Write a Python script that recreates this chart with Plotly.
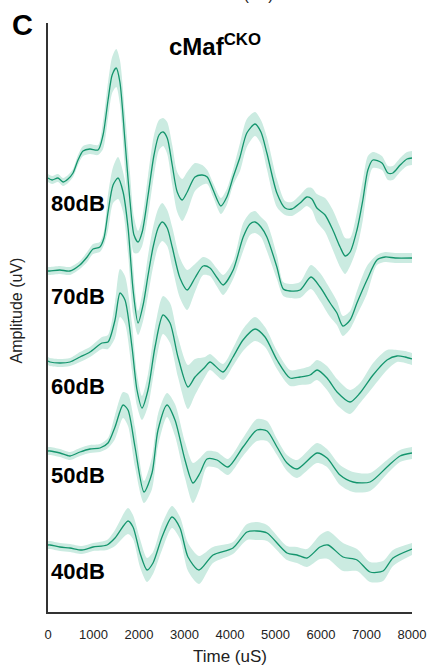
import plotly.graph_objects as go

# ---------------- data (time in µs, amplitude in arbitrary units, up = positive) -------------
LEVELS = ["80dB", "70dB", "60dB", "50dB", "40dB"]
OFFSETS = [434, 341, 251, 162, 66]

T80 = [0, 90, 220, 330, 440, 550, 660, 770, 920, 1100, 1210, 1320, 1410, 1500, 1580, 1690, 1800, 1890, 1980, 2070,
       2200, 2330, 2440, 2530, 2620, 2730, 2840, 2950, 3060, 3230, 3390, 3500, 3630, 3800, 3930, 4070, 4220, 4370, 4550, 4680,
       4810, 5030, 5210, 5360, 5540, 5690, 5800, 5910, 6090, 6260, 6420, 6530, 6640, 6790, 6920, 7030, 7140, 7340, 7470, 7580,
       7740, 7890, 8000]
V80 = [0, -2, 0, -4, -1, 5, 18, 27, 29, 28, 43, 78, 103, 110, 96, 38, -22, -57, -64, -54,
       -17, 23, 43, 46, 40, 13, -14, -22, -14, 1, 3, 1, -12, -28, -19, 1, 21, 45, 54, 46,
       25, -15, -30, -31, -25, -19, -21, -30, -37, -52, -69, -78, -74, -52, -22, 8, 18, 15, 5, 5,
       13, 19, 20]
S80 = [4, 4, 4, 4, 4, 4, 5, 5, 5, 5, 14, 18, 18, 19, 22, 28, 28, 18, 11, 14,
       20, 20, 15, 14, 16, 20, 20, 21, 20, 14, 10, 7, 7, 8, 8, 8, 14, 14, 12, 12,
       16, 14, 7, 7, 8, 9, 11, 14, 17, 20, 20, 18, 14, 18, 20, 14, 8, 7, 7, 7,
       7, 7, 7]

T70 = [0, 40, 260, 480, 700, 860, 990, 1140, 1230, 1320, 1430, 1540, 1650, 1760, 1870, 1980, 2090, 2200, 2310, 2420,
       2510, 2620, 2730, 2900, 3060, 3230, 3410, 3560, 3720, 3850, 4070, 4290, 4440, 4550, 4680, 4810, 5030, 5170, 5320, 5540,
       5780, 5980, 6200, 6350, 6480, 6640, 6790, 7010, 7230, 7410, 7630, 8000]
V70 = [0, 0, 1, 0, 6, 14, 22, 24, 33, 59, 86, 93, 79, 43, -19, -52, -34, -4, 24, 43,
       49, 43, 24, -7, -19, -7, 5, 3, -7, -14, 1, 34, 47, 49, 44, 34, 4, -18, -20, -19,
       -6, -16, -32, -42, -55, -49, -32, -9, 11, 14, 13, 13]
S70 = [4, 4, 4, 4, 4, 5, 5, 5, 7, 18, 18, 21, 20, 26, 24, 12, 16, 20, 20, 19,
       19, 18, 20, 20, 20, 14, 9, 8, 9, 10, 9, 14, 11, 11, 10, 14, 12, 7, 7, 8,
       12, 14, 14, 12, 10, 9, 12, 14, 5, 5, 5, 5]

T60 = [0, 44, 264, 484, 703, 923, 1187, 1319, 1473, 1583, 1692, 1846, 1956, 2066, 2198, 2352, 2528, 2682, 2857, 3077,
       3231, 3451, 3561, 3847, 4066, 4286, 4550, 4770, 5033, 5319, 5539, 5759, 5913, 6132, 6352, 6638, 6858, 7144, 7451, 7671,
       7847, 8000]
V60 = [0, -1, -2, -1, 4, 9, 18, 19, 41, 68, 61, 14, -29, -47, -29, 14, 46, 38, 4, -26,
       -16, -6, -1, -11, 4, 21, 32, 24, 1, -17, -16, -14, -9, -17, -31, -41, -32, -14, 1, 5,
       4, 2]
S60 = [4, 4, 4, 4, 5, 5, 6, 7, 18, 24, 24, 24, 16, 12, 16, 20, 19, 20, 20, 22,
       18, 10, 8, 8, 9, 11, 12, 10, 9, 8, 8, 9, 10, 12, 13, 12, 10, 12, 10, 6,
       6, 6]

T50 = [0, 44, 264, 484, 703, 923, 1143, 1319, 1473, 1649, 1758, 1912, 2110, 2286, 2418, 2616, 2791, 3011, 3187, 3341,
       3495, 3715, 3956, 4286, 4594, 4814, 5033, 5253, 5473, 5913, 6132, 6418, 6704, 7078, 7451, 7737, 8000]
V50 = [-1, -1, -3, -6, -2, 1, 2, 7, 23, 45, 40, 3, -42, -23, 20, 45, 30, -10, -33, -23,
       -9, -10, -17, 3, 20, 19, 3, -13, -19, -3, -8, -25, -32, -32, -17, -6, -3]
S50 = [4, 4, 4, 4, 4, 4, 4, 5, 12, 13, 16, 20, 11, 16, 16, 12, 16, 18, 20, 15,
       8, 8, 8, 9, 11, 10, 8, 8, 9, 10, 9, 10, 10, 9, 7, 6, 6]

T40 = [0, 44, 264, 484, 747, 989, 1297, 1473, 1758, 1868, 2022, 2176, 2308, 2506, 2726, 2901, 3077, 3319, 3627, 4066,
       4374, 4594, 4814, 5253, 5473, 5693, 5979, 6154, 6484, 6792, 7078, 7363, 7583, 8000]
V40 = [1, 1, -1, -2, -4, -1, 1, 8, 25, 19, -7, -24, -17, 9, 29, 18, -11, -24, -9, -2,
       14, 15, 13, -7, -9, -12, -1, 1, -11, -14, -26, -25, -12, -3]
S40 = [4, 4, 4, 4, 4, 4, 5, 8, 13, 12, 14, 12, 11, 13, 11, 11, 14, 14, 8, 6,
       8, 9, 8, 7, 8, 9, 12, 14, 14, 11, 10, 10, 8, 6]

X_TICKS = [0, 1000, 2000, 3000, 4000, 5000, 6000, 7000, 8000]

# ---------------- styling ----------------
LINE = "#14956d"
BAND = "#cbebe1"
FONT = "Liberation Sans, Arial, sans-serif"
SM = 0.75

series = [
    (LEVELS[0], OFFSETS[0], T80, V80, S80),
    (LEVELS[1], OFFSETS[1], T70, V70, S70),
    (LEVELS[2], OFFSETS[2], T60, V60, S60),
    (LEVELS[3], OFFSETS[3], T50, V50, S50),
    (LEVELS[4], OFFSETS[4], T40, V40, S40),
]

fig = go.Figure()
# shaded bands first
for name, off, T, V, S in series:
    lower = [off + v - s for v, s in zip(V, S)]
    upper = [off + v + s for v, s in zip(V, S)]
    fig.add_trace(go.Scatter(x=T, y=lower, mode="lines", hoverinfo="skip", showlegend=False,
                             line=dict(width=0, shape="spline", smoothing=SM)))
    fig.add_trace(go.Scatter(x=T, y=upper, mode="lines", hoverinfo="skip", showlegend=False,
                             fill="tonexty", fillcolor=BAND,
                             line=dict(width=0, shape="spline", smoothing=SM)))
# mean lines on top
for name, off, T, V, S in series:
    fig.add_trace(go.Scatter(x=T, y=[off + v for v in V], mode="lines", name=name, showlegend=False,
                             line=dict(color=LINE, width=1.3, shape="spline", smoothing=SM)))

annotations = []
for name, off, *_ in series:
    annotations.append(dict(text="<b>%s</b>" % name, xref="paper", x=0.003, xanchor="left",
                            yref="y", y=off - 25, yanchor="middle", showarrow=False,
                            font=dict(family=FONT, size=22, color="#000")))

annotations += [
    dict(text="<b>C</b>", xref="paper", yref="paper", x=-0.0714, y=0.9966, xanchor="center", yanchor="middle",
         showarrow=False, font=dict(family=FONT, size=29, color="#000")),
    dict(text="<b>cMaf<sup>CKO</sup></b>", xref="paper", yref="paper", x=0.458, y=0.962, xanchor="center",
         yanchor="middle", showarrow=False, font=dict(family=FONT, size=24, color="#000")),
    dict(text="Amplitude (uV)", xref="paper", yref="paper", x=-0.088, y=0.512, xanchor="center",
         yanchor="middle", textangle=-90, showarrow=False, font=dict(family=FONT, size=16, color="#222")),
    dict(text="Time (uS)", xref="paper", yref="paper", x=0.525, y=1.03, xanchor="center",
         yanchor="bottom", showarrow=False, font=dict(family=FONT, size=16, color="#222")),
]

fig.update_layout(
    width=430, height=669,
    margin=dict(l=48, r=18, t=23, b=57, autoexpand=False),
    paper_bgcolor="white", plot_bgcolor="white",
    showlegend=False,
    annotations=annotations,
    xaxis=dict(range=[0, 8000], tickvals=X_TICKS, ticktext=[str(v) for v in X_TICKS], automargin=False,
               showline=True, linecolor="#333", linewidth=2, ticks="", showgrid=False, zeroline=False,
               ticklabelstandoff=9,
               tickfont=dict(family=FONT, size=13, color="#222"),
               title=dict(text="Time (uS)", font=dict(family=FONT, size=17, color="#222"), standoff=10)),
    yaxis=dict(range=[0, 589], showline=True, linecolor="#333", linewidth=2, ticks="", automargin=False,
               showticklabels=False, showgrid=False, zeroline=False),
)

fig.write_html("out.html")
